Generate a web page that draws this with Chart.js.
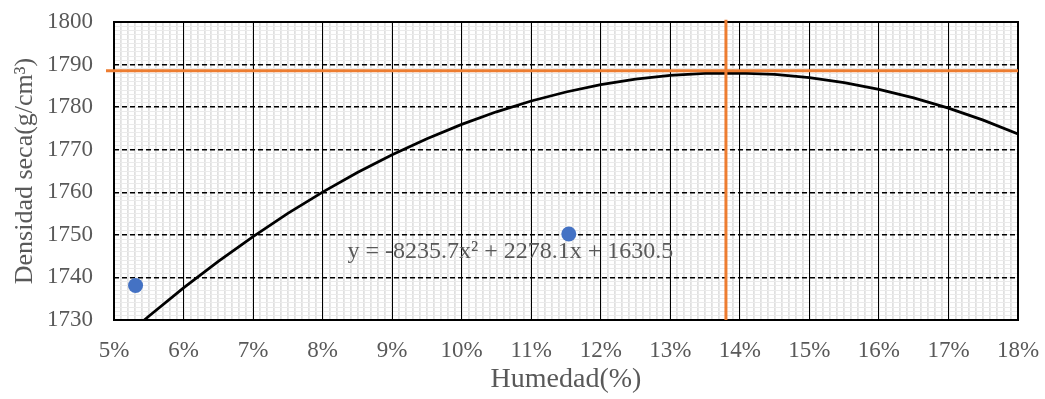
<!DOCTYPE html>
<html>
<head>
<meta charset="utf-8">
<script src="https://cdn.jsdelivr.net/npm/chart.js@4"></script>
<style>
  html, body { margin: 0; padding: 0; background: #fff; }
  #wrap { width: 1045px; height: 399px; }
</style>
</head>
<body>
<div id="wrap"><canvas id="c" width="1045" height="399"></canvas></div>
<script>
// Measured points (humidity %, dry density)
const humedad = [5.31, 11.54];
const densidad = [1738.1, 1750.2];

// Trend curve
const curveX = [5.436, 5.5, 6, 6.5, 7, 7.5, 8, 8.5, 9, 9.5, 10, 10.5, 11, 11.5, 12, 12.5, 13, 13.5, 14, 14.5, 15, 15.5, 16, 16.5, 17, 17.5, 18];
const curveY = [1730.0, 1730.88, 1737.54, 1743.78, 1749.61, 1755.03, 1760.04, 1764.64, 1768.82, 1772.59, 1775.95, 1778.90, 1781.44, 1783.56, 1785.28, 1786.58, 1787.47, 1787.95, 1788.01, 1787.67, 1786.91, 1785.74, 1784.16, 1782.17, 1779.77, 1776.95, 1773.72];

// Optimum lines
const optX = [13.8, 13.8];
const optXY = [1730, 1800.5];
const optYX = [4.885, 18];
const optY = [1788.55, 1788.55];

const xRange = [5, 18];
const yRange = [1730, 1800];
const equationText = 'y = -8235.7x\u00B2 + 2278.1x + 1630.5';
const equationAt = [10.70, 1746.0];
const xTitle = 'Humedad(%)';
const yTitle = 'Densidad seca(g/cm\u00B3)';

const FONT = '"Liberation Serif", "Times New Roman", serif';
const GRAY = '#595959';

const toPts = (xs, ys) => xs.map((x, i) => ({x: x, y: ys[i]}));
const noPad = s => { s.paddingTop = 0; s.paddingBottom = 0; s.paddingLeft = 0; s.paddingRight = 0; };

const framePlugin = {
  id: 'frame',
  beforeDatasetsDraw(chart) {
    const {ctx, chartArea: a} = chart;
    ctx.save();
    ctx.strokeStyle = '#000';
    ctx.lineWidth = 2;
    ctx.strokeRect(a.left, a.top, a.right - a.left, a.bottom - a.top);
    ctx.restore();
  }
};

const equationPlugin = {
  id: 'equation',
  afterDatasetsDraw(chart) {
    const {ctx, scales} = chart;
    const px = scales.x.getPixelForValue(equationAt[0]);
    const py = scales.y.getPixelForValue(equationAt[1]);
    ctx.save();
    ctx.font = '24px ' + FONT;
    ctx.fillStyle = GRAY;
    ctx.textAlign = 'center';
    ctx.textBaseline = 'middle';
    ctx.fillText(equationText, px, py);
    ctx.restore();
  }
};

const common = { xAxisID: 'x', yAxisID: 'y', showLine: true, pointRadius: 0, pointHoverRadius: 0 };

new Chart(document.getElementById('c'), {
  type: 'scatter',
  data: {
    datasets: [
      Object.assign({}, common, {
        label: 'curve',
        data: toPts(curveX, curveY),
        borderColor: '#000',
        borderWidth: 2.75,
        order: 3
      }),
      Object.assign({}, common, {
        label: 'optX',
        data: toPts(optX, optXY),
        borderColor: '#ED7D31',
        borderWidth: 3,
        clip: false,
        order: 2
      }),
      Object.assign({}, common, {
        label: 'optY',
        data: toPts(optYX, optY),
        borderColor: '#ED7D31',
        borderWidth: 3,
        clip: false,
        order: 2
      }),
      {
        label: 'puntos',
        xAxisID: 'x', yAxisID: 'y',
        data: toPts(humedad, densidad),
        showLine: false,
        backgroundColor: '#4472C4',
        borderWidth: 0,
        pointRadius: 7.5,
        pointHoverRadius: 7.5,
        order: 1
      }
    ]
  },
  options: {
    responsive: false,
    animation: false,
    devicePixelRatio: 1,
    layout: { padding: { top: 22, right: 27, left: 0, bottom: 0 } },
    plugins: { legend: { display: false }, tooltip: { enabled: false } },
    scales: {
      x: {
        type: 'linear', position: 'bottom', min: xRange[0], max: xRange[1],
        ticks: {
          stepSize: 1, autoSkip: false, padding: 17, color: GRAY,
          font: { family: FONT, size: 23 },
          callback: v => v + '%'
        },
        grid: { color: '#000', lineWidth: 1, drawTicks: false, z: -1 },
        border: { display: false },
        title: {
          display: true, text: xTitle, color: GRAY,
          font: { family: FONT, size: 28 }, padding: { top: 0, bottom: 3 }
        },
        afterFit: s => { s.height = 79; noPad(s); }
      },
      xMinor: {
        type: 'linear', position: 'bottom', min: xRange[0] * 10, max: xRange[1] * 10,
        ticks: { display: false, stepSize: 1, autoSkip: false },
        grid: { color: '#e0e0e0', lineWidth: 1.75, drawTicks: false, z: -2 },
        border: { display: false },
        afterFit: s => { s.height = 0; noPad(s); }
      },
      y: {
        type: 'linear', position: 'left', min: yRange[0], max: yRange[1],
        ticks: {
          stepSize: 10, autoSkip: false, padding: 21, color: GRAY,
          font: { family: FONT, size: 23 },
          callback: v => String(v)
        },
        grid: { color: '#000', lineWidth: 1.5, drawTicks: false, z: -1 },
        border: { display: false, dash: [5, 3] },
        title: {
          display: true, text: yTitle, color: GRAY,
          font: { family: FONT, size: 26 }, padding: { top: 10, bottom: 0 }
        },
        afterFit: s => { s.width = 114; noPad(s); }
      },
      yMinor: {
        type: 'linear', position: 'left', min: yRange[0], max: yRange[1],
        ticks: { display: false, stepSize: 1, autoSkip: false },
        grid: { color: '#ebebeb', lineWidth: 1, drawTicks: false, z: -2 },
        border: { display: false },
        afterFit: s => { s.width = 0; noPad(s); }
      }
    }
  },
  plugins: [framePlugin, equationPlugin]
});
</script>
</body>
</html>
